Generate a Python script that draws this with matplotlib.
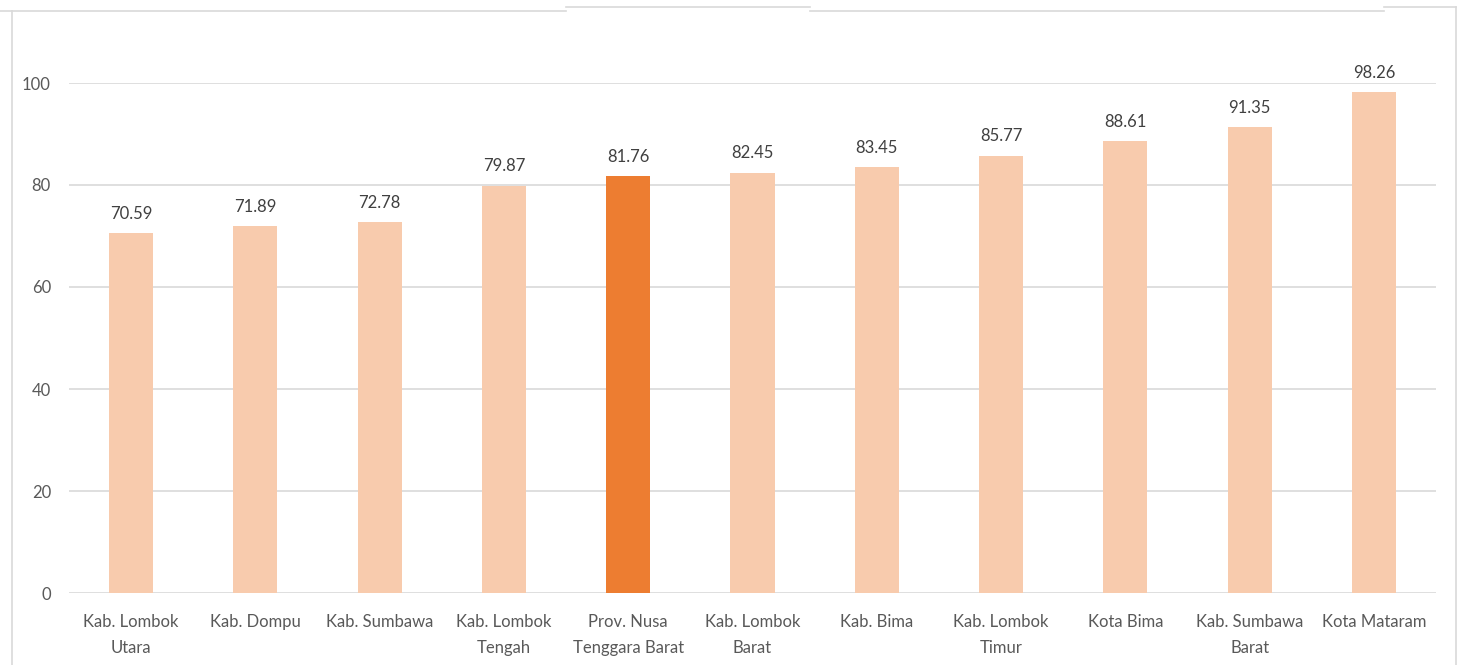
import matplotlib
matplotlib.use("Agg")
import matplotlib.pyplot as plt
from matplotlib.lines import Line2D

categories = ["Kab. Lombok\nUtara", "Kab. Dompu", "Kab. Sumbawa", "Kab. Lombok\nTengah",
              "Prov. Nusa\nTenggara Barat", "Kab. Lombok\nBarat", "Kab. Bima", "Kab. Lombok\nTimur",
              "Kota Bima", "Kab. Sumbawa\nBarat", "Kota Mataram"]
values = [70.59, 71.89, 72.78, 79.87, 81.76, 82.45, 83.45, 85.77, 88.61, 91.35, 98.26]
highlight = "Prov. Nusa\nTenggara Barat"
yticks = [0, 20, 40, 60, 80, 100]

plt.rcParams['font.family'] = ['Lato', 'DejaVu Sans']

W, H = 1462, 665
fig = plt.figure(figsize=(W / 100, H / 100), dpi=100)
ax = fig.add_axes([69 / W, (H - 593) / H, (1436 - 69) / W, (593 - 83) / H])

colors = ["#ED7D31" if c == highlight else "#F8CBAD" for c in categories]
x = list(range(len(categories)))
ax.bar(x, values, width=0.355, color=colors, zorder=3)
for xi, v in zip(x, values):
    ax.text(xi, v + 2.2, f"{v:.2f}", ha="center", va="bottom", fontsize=12, color="#404040", clip_on=False)

ax.set_xlim(-0.5, len(categories) - 0.5)
ax.set_ylim(0, 100)
ax.set_yticks(yticks)
ax.set_yticklabels([str(t) for t in yticks], fontsize=12, color="#595959")
ax.set_xticks(x)
ax.set_xticklabels(categories, fontsize=12, color="#595959", linespacing=1.75)
ax.tick_params(axis="x", length=0, pad=15)
ax.tick_params(axis="y", length=0, pad=13)
ax.grid(axis="y", color="#D9D9D9", linewidth=1.2, zorder=0)
for s in ax.spines.values():
    s.set_visible(False)

def fx(px):
    return px / W

def fy(py):
    return 1 - py / H

border = dict(color="#D9D9D9", linewidth=1.2, transform=fig.transFigure)
fig.lines.extend([
    Line2D([fx(12), fx(12)], [fy(11), fy(670)], **border),
    Line2D([fx(0), fx(566)], [fy(11), fy(11)], **border),
    Line2D([fx(566), fx(810)], [fy(7), fy(7)], **border),
    Line2D([fx(810), fx(1384)], [fy(11), fy(11)], **border),
    Line2D([fx(1384), fx(1456)], [fy(7), fy(7)], **border),
    Line2D([fx(1456), fx(1456)], [fy(7), fy(670)], **border),
])

fig.savefig("out.png", dpi=100)
